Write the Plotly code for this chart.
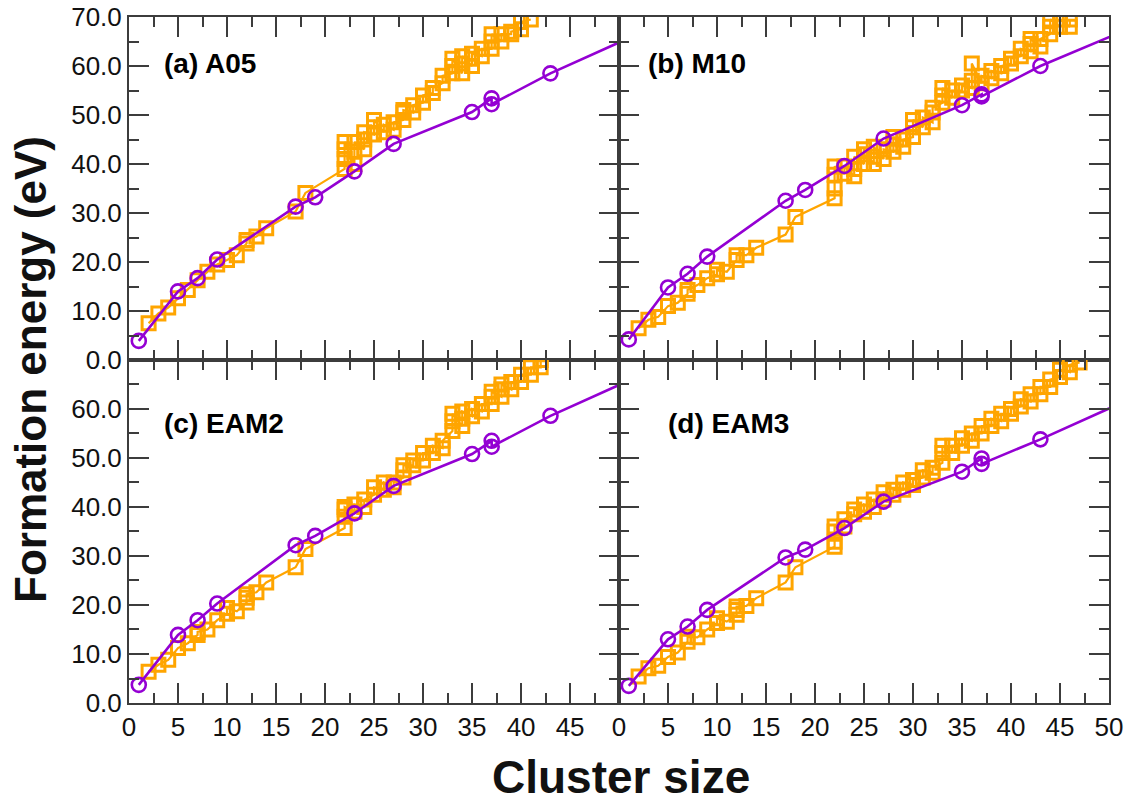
import plotly.graph_objects as go

# ---------------- data ----------------
circle_sizes = [1, 5, 7, 9, 17, 19, 23, 27, 35, 37, 37, 43, 55]
a_circle = [3.9, 14.0, 16.7, 20.5, 31.3, 33.2, 38.5, 44.1, 50.6, 53.4, 52.2, 58.5, 69.3]
b_circle = [4.2, 14.8, 17.6, 21.1, 32.5, 34.7, 39.6, 45.2, 52.0, 54.2, 53.8, 60.0, 70.1]
c_circle = [3.7, 13.9, 16.9, 20.3, 32.2, 34.1, 38.7, 44.3, 50.8, 53.5, 52.3, 58.6, 69.4]
d_circle = [3.5, 13.0, 15.6, 19.0, 29.7, 31.3, 35.7, 41.1, 47.2, 49.9, 48.8, 53.8, 64.6]

low_sizes = [2, 3, 4, 5, 6, 7, 8, 9, 10, 11, 12, 13, 14, 17, 18]

a_sq_sizes = low_sizes + list(range(22, 42))
a_sq = [[7.5], [9.5], [10.7], [12.6], [14.3], [16.3], [18.0], [19.5], [20.4], [21.4],
        [23.8, 24.5], [25.2], [26.9], [30.3], [34.1],
        [39.0, 41.0, 43.0, 44.5], [40.0, 42.5, 44.5], [43.0, 45.0, 46.5], [46.0, 47.5, 49.0],
        [46.5, 48.0], [47.0, 48.5], [49.0, 50.5, 51.0], [50.5, 52.0], [52.5, 54.0],
        [54.5, 55.5], [56.5, 58.0], [58.5, 60.0, 61.5], [58.5, 60.5, 62.0], [60.0, 61.5, 62.5],
        [62.0, 63.5], [63.5, 65.0, 66.5], [65.0, 66.5], [66.5, 67.0], [67.5, 69.0], [69.5]]

b_sq_sizes = low_sizes + list(range(22, 47))
b_sq = [[6.5], [8.2], [8.8], [11.0], [11.7], [13.5, 14.3], [15.3], [16.7], [17.5, 18.4], [18.0],
        [20.4, 21.4], [21.4], [22.9], [25.6], [29.2],
        [33.0, 35.0, 37.8, 39.5], [38.0, 39.5], [37.5, 39.0, 41.5], [40.0, 42.0, 43.0],
        [40.0, 41.5, 43.5], [41.0, 43.0], [42.5, 44.0, 45.5], [43.5, 45.0], [45.5, 47.5, 49.0],
        [47.5, 49.5], [48.5, 50.5, 51.5], [52.5, 54.0, 55.5], [53.5, 55.0], [55.0, 56.0],
        [55.5, 57.0, 60.5], [56.5, 58.0], [57.5, 59.0], [58.5, 60.0], [60.5, 61.5], [62.0, 63.5],
        [63.0, 64.5, 65.5], [64.0, 65.5], [66.5, 68.0, 69.5], [68.0, 69.5], [68.0, 69.5]]

c_sq_sizes = low_sizes + list(range(22, 43))
c_sq = [[6.4], [7.8], [8.8], [11.2], [12.2], [13.9, 14.5], [15.0], [16.9], [18.2, 19.4], [18.7],
        [20.5, 21.5, 22.2], [22.6], [24.6], [27.7], [31.4],
        [35.7, 38.0, 39.5, 40.0], [39.0, 40.5], [40.0, 41.5], [42.5, 44.0], [43.5, 45.0],
        [44.0, 45.0], [46.0, 47.5, 48.5], [48.5, 49.5], [49.5, 51.0], [51.0, 52.5], [52.0, 53.5],
        [55.5, 57.5, 59.0], [56.5, 58.0, 59.5], [58.5, 60.0], [59.5, 61.0], [61.0, 62.5, 63.5],
        [62.5, 64.0, 65.0], [64.0, 65.5], [65.5, 67.0], [67.0, 68.5], [68.5, 70.0]]

d_sq_sizes = low_sizes + list(range(22, 48))
d_sq = [[5.4], [7.1], [7.6], [9.4], [10.3], [12.5, 13.5], [13.4], [15.0], [16.3, 17.3], [16.6],
        [18.0, 19.0, 19.7], [19.8], [21.4], [24.6], [27.7],
        [31.9, 32.9, 35.0, 36.0], [36.0, 37.5], [38.5, 39.5], [39.0, 40.5], [40.0, 41.5],
        [41.5, 43.0], [42.5, 43.5], [43.5, 45.0], [44.5, 45.5], [46.0, 47.5], [47.0, 48.0],
        [49.0, 51.0, 52.5], [51.0, 52.5], [52.5, 54.0], [53.5, 55.0], [55.0, 56.5], [56.5, 58.0],
        [57.5, 59.0], [59.0, 60.0], [60.5, 62.0], [61.5, 63.0], [63.0, 64.5], [64.5, 66.0],
        [66.5, 68.0], [67.5, 69.0], [69.5]]

panel_labels = ["(a) A05", "(b) M10", "(c) EAM2", "(d) EAM3"]
x_ticks = [0, 5, 10, 15, 20, 25, 30, 35, 40, 45, 50]
y_ticks = [0, 10, 20, 30, 40, 50, 60, 70]

ORANGE = "#FFA500"
PURPLE = "#9400D3"
AXC = "#3c3c3c"
FONT = "Liberation Sans, Arial"

# ---------------- figure ----------------
fig = go.Figure()

panels = [
    ("x", "y", a_sq_sizes, a_sq, a_circle),
    ("x2", "y2", b_sq_sizes, b_sq, b_circle),
    ("x3", "y3", c_sq_sizes, c_sq, c_circle),
    ("x4", "y4", d_sq_sizes, d_sq, d_circle),
]

for xa, ya, sizes, groups, circ in panels:
    xs, ys = [], []
    for n, vals in zip(sizes, groups):
        for v in vals:
            xs.append(n)
            ys.append(v)
    fig.add_trace(go.Scatter(
        x=xs, y=ys, xaxis=xa, yaxis=ya, mode="lines+markers",
        line=dict(color=ORANGE, width=2.2),
        marker=dict(symbol="square-open", size=13, color=ORANGE, line=dict(width=3, color=ORANGE)),
        showlegend=False, hoverinfo="skip"))
    fig.add_trace(go.Scatter(
        x=circle_sizes, y=circ, xaxis=xa, yaxis=ya, mode="lines+markers",
        line=dict(color=PURPLE, width=2.6),
        marker=dict(symbol="circle-open", size=14, color=PURPLE, line=dict(width=2.6, color=PURPLE)),
        showlegend=False, hoverinfo="skip"))


def xaxis(domain, anchor, labels, rng):
    return dict(domain=domain, anchor=anchor, range=rng, tickmode="array", tickvals=x_ticks,
                showticklabels=labels, showline=True, linecolor=AXC, linewidth=2,
                mirror="allticks", ticks="inside", ticklen=20, tickwidth=2, tickcolor=AXC,
                showgrid=False, zeroline=False, automargin=False, ticklabeloverflow="allow",
                tickfont=dict(family=FONT, size=26, color="#111"),
                minor=dict(dtick=2.5, tick0=0, ticklen=10, tickwidth=2, tickcolor=AXC,
                           ticks="inside", showgrid=False))


def yaxis(domain, anchor, labels, rng):
    return dict(domain=domain, anchor=anchor, range=rng, tickmode="array", tickvals=y_ticks,
                ticktext=[f"{v:.1f}" for v in y_ticks],
                showticklabels=labels, showline=True, linecolor=AXC, linewidth=2,
                mirror="allticks", ticks="inside", ticklen=20, tickwidth=2, tickcolor=AXC,
                showgrid=False, zeroline=False, automargin=False, ticklabeloverflow="allow",
                tickfont=dict(family=FONT, size=26, color="#111"),
                minor=dict(dtick=5, tick0=0, ticklen=10, tickwidth=2, tickcolor=AXC,
                           ticks="inside", showgrid=False))


fig.update_layout(
    width=1130, height=805,
    margin=dict(l=129, r=21, t=17, b=102, autoexpand=False),
    plot_bgcolor="white", paper_bgcolor="white",
    xaxis=xaxis([0, 0.5], "y", False, [0, 50]),
    yaxis=yaxis([0.5, 1], "x", True, [0, 70]),
    xaxis2=xaxis([0.5, 1], "y2", False, [0, 50]),
    yaxis2=yaxis([0.5, 1], "x2", False, [0, 70]),
    xaxis3=xaxis([0, 0.5], "y3", True, [0, 49.99]),
    yaxis3=yaxis([0, 0.5], "x3", True, [0, 69.99]),
    xaxis4=xaxis([0.5, 1], "y4", True, [0, 50]),
    yaxis4=yaxis([0, 0.5], "x4", False, [0, 69.99]),
)

label_pos = [("x", "y", 3.4, 60.6), ("x2", "y2", 2.75, 60.6), ("x3", "y3", 3.4, 57.0), ("x4", "y4", 4.8, 57.0)]
for (xr, yr, lx, ly), txt in zip(label_pos, panel_labels):
    fig.add_annotation(x=lx, y=ly, xref=xr, yref=yr, text=f"<b>{txt}</b>", showarrow=False,
                       xanchor="left", yanchor="middle",
                       font=dict(family=FONT, size=28, color="black"))

# axis titles positioned in paper coordinates (plot area: x 129..1109, y 17..703 px)
fig.add_annotation(x=(30 - 129) / 980, y=(703 - 370) / 686, xref="paper", yref="paper",
                   text="<b>Formation energy (eV)</b>", showarrow=False, textangle=-90,
                   xanchor="center", yanchor="middle",
                   font=dict(family=FONT, size=44, color="#111"))
fig.add_annotation(x=(621 - 129) / 980, y=(703 - 777) / 686, xref="paper", yref="paper",
                   text="<b>Cluster size</b>", showarrow=False,
                   xanchor="center", yanchor="middle",
                   font=dict(family=FONT, size=46, color="#111"))

# remove the default page margin so the figure sits at the window's top-left corner
fig.write_html("out.html", config={"displayModeBar": False},
               post_script="document.body.style.margin='0';document.body.style.overflow='hidden';")
